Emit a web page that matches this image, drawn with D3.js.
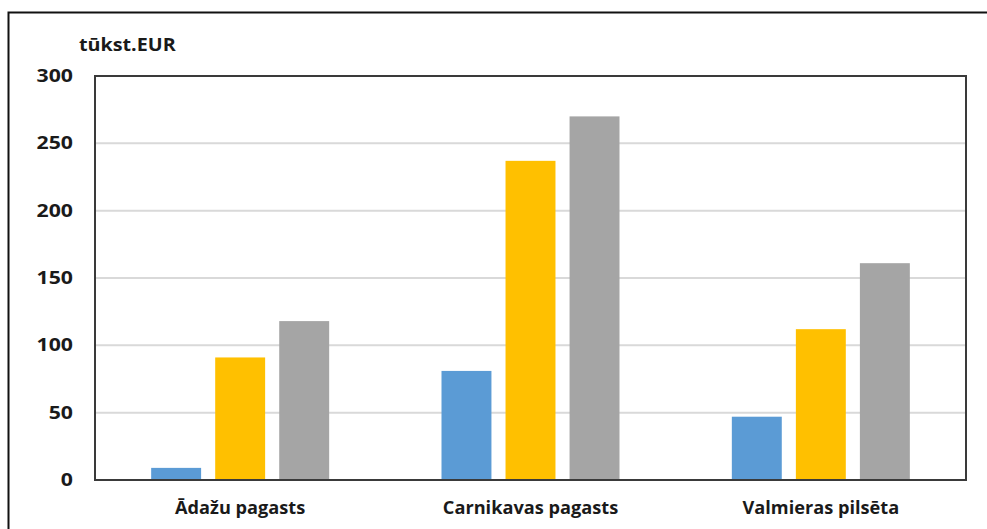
<!DOCTYPE html>
<html>
<head>
<meta charset="utf-8">
<script src="https://cdn.jsdelivr.net/npm/d3@7"></script>
<style>
html,body{margin:0;padding:0;background:#fff;}
svg{display:block;font-family:"Open Sans",sans-serif;}
</style>
</head>
<body>
<svg id="chart" width="987" height="529"></svg>
<script>
const categories = ["Ādažu pagasts", "Carnikavas pagasts", "Valmieras pilsēta"];
const seriesNames = ["s1", "s2", "s3"];
const seriesA = [9, 81, 47];
const seriesB = [91, 237, 112];
const seriesC = [118, 270, 161];
const yTicks = [0, 50, 100, 150, 200, 250, 300];
const unitLabel = "tūkst.EUR";
const colors = ["#5B9BD5", "#FFC000", "#A5A5A5"];

(function () {
const seriesValues = [seriesA, seriesB, seriesC];
const data = categories.map((c, i) => ({cat: c, vals: seriesValues.map((s, j) => ({key: seriesNames[j], v: s[i]}))}));

const svg = d3.select("#chart");
const pl = 95, pr = 966, pt = 76, pb = 480;

// outer border
svg.append("path").attr("d", "M8.5,529 L8.5,12.5 L987,12.5")
  .attr("fill", "none").attr("stroke", "#111").attr("stroke-width", 2);

const y = d3.scaleLinear().domain([0, 300]).range([pb, pt]);
const x0 = d3.scaleBand().domain(categories).range([pl, pr]).paddingInner(0).paddingOuter(0);
const groupW = 178;
const x1 = d3.scaleBand().domain(seriesNames).range([0, groupW]).paddingInner(0.22).paddingOuter(0);

// gridlines
svg.append("g").selectAll("line").data(yTicks.filter(t => t > 0 && t < 300)).join("line")
  .attr("x1", pl).attr("x2", pr).attr("y1", d => y(d)).attr("y2", d => y(d))
  .attr("stroke", "#D9D9D9").attr("stroke-width", 2);

// bars
const g = svg.append("g").selectAll("g").data(data).join("g")
  .attr("transform", d => `translate(${x0(d.cat) + (x0.bandwidth() - groupW) / 2},0)`);
g.selectAll("rect").data(d => d.vals).join("rect")
  .attr("x", d => x1(d.key)).attr("width", x1.bandwidth())
  .attr("y", d => y(d.v)).attr("height", d => y(0) - y(d.v))
  .attr("fill", (d, i) => colors[i]);

// plot border
svg.append("rect").attr("x", pl).attr("y", pt).attr("width", pr - pl).attr("height", pb - pt)
  .attr("fill", "none").attr("stroke", "#3a3a3a").attr("stroke-width", 2);

// y axis labels
const yAxis = d3.axisLeft(y).tickValues(yTicks).tickSize(0).tickPadding(0);
const ya = svg.append("g").attr("transform", `translate(73,0)`).call(yAxis);
ya.select(".domain").remove();
ya.selectAll("text").attr("font-size", 17).attr("font-weight", 700).attr("fill", "#1a1a1a")
  .attr("font-family", "Open Sans").attr("transform", "scale(1.25,1)");

// x axis labels
const xAxis = d3.axisBottom(x0).tickSize(0).tickPadding(0);
const xa = svg.append("g").attr("transform", `translate(0,502)`).call(xAxis);
xa.select(".domain").remove();
xa.selectAll("text").attr("font-size", 17).attr("font-weight", 700).attr("fill", "#1a1a1a")
  .attr("font-family", "Open Sans").attr("transform", "scale(1.07,1)");

// unit label
svg.append("text").attr("transform", "translate(79,51) scale(1.16,1)").text(unitLabel)
  .attr("font-size", 17).attr("font-weight", 700).attr("fill", "#1a1a1a");
})();
</script>
</body>
</html>
